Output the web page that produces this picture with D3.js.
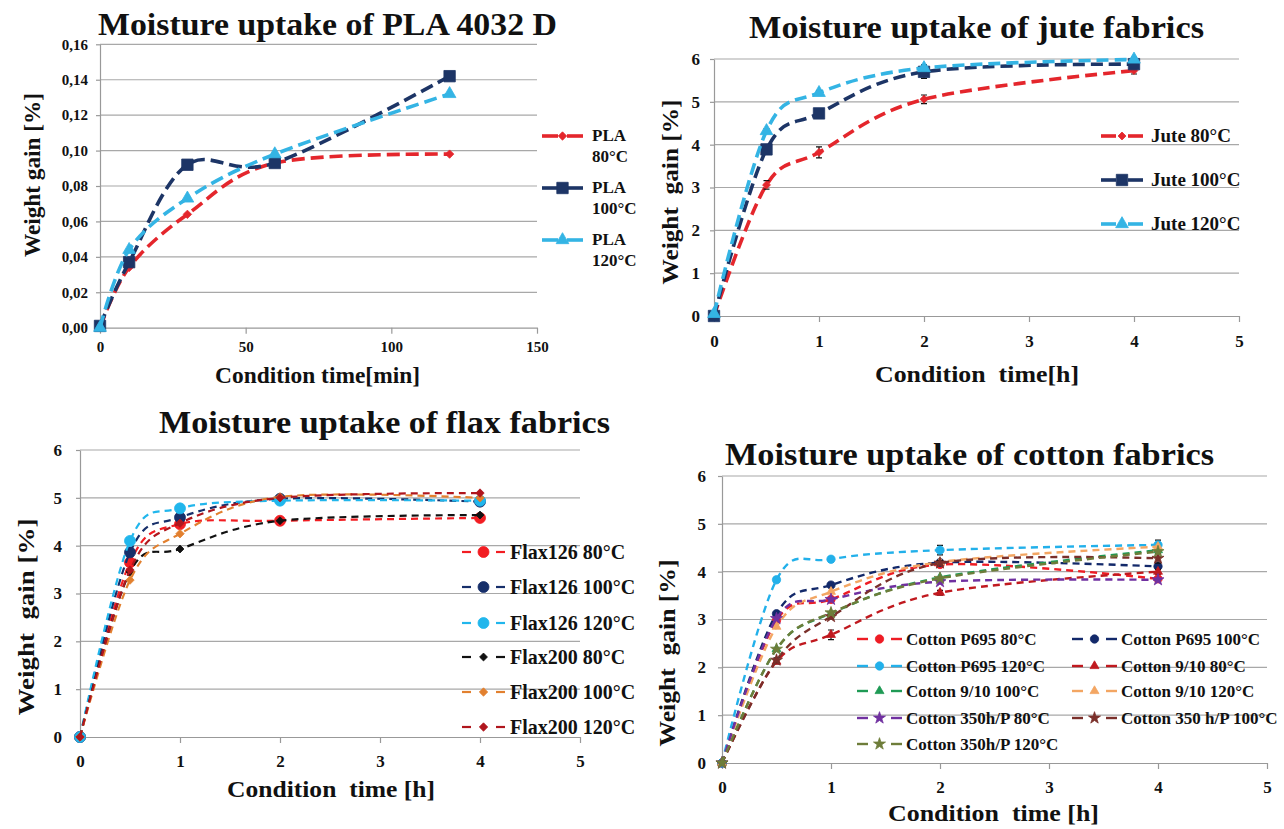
<!doctype html>
<html lang="en">
<head>
<meta charset="utf-8">
<title>Moisture uptake</title>
<script src="https://cdnjs.cloudflare.com/ajax/libs/d3/7.8.5/d3.min.js"></script>
<style>
  body { margin: 0; background: #fff; }
  text { font-family: "Liberation Serif", "Times New Roman", serif; font-weight: bold; fill: #111; }
</style>
</head>
<body>
<svg id="chart" width="1284" height="829"></svg>
<script>
// ---- data ----
var plaTime = [0, 10, 30, 60, 120];
var pla80  = [0, 0.034, 0.064, 0.093, 0.098];
var pla100 = [0.001, 0.037, 0.092, 0.093, 0.142];
var pla120 = [0, 0.044, 0.073, 0.098, 0.132];
var plaXTicks = [0, 50, 100, 150];
var plaYTicks = [0, 0.02, 0.04, 0.06, 0.08, 0.10, 0.12, 0.14, 0.16];

var hours = [0, 0.5, 1, 2, 4];
var hourTicks = [0, 1, 2, 3, 4, 5];
var pctTicks = [0, 1, 2, 3, 4, 5, 6];

var jute80  = [0, 3.06, 3.82, 5.06, 5.73];
var jute100 = [0, 3.89, 4.73, 5.70, 5.88];
var jute120 = [0.05, 4.32, 5.21, 5.79, 5.99];
var jute80Err  = [0, 0.10, 0.13, 0.10, 0.08];
var jute100Err = [0, 0.05, 0.08, 0.15, 0.08];
var jute120Err = [0, 0.05, 0.05, 0.08, 0.05];

var flax126_80  = [0, 3.65, 4.45, 4.52, 4.58];
var flax126_100 = [0, 3.86, 4.59, 4.98, 4.92];
var flax126_120 = [0, 4.10, 4.78, 4.94, 4.94];
var flax200_80  = [0, 3.45, 3.93, 4.52, 4.64];
var flax200_100 = [0, 3.28, 4.25, 5.02, 5.00];
var flax200_120 = [0, 3.49, 4.47, 5.00, 5.10];

var cotP695_80   = [0, 2.98, 3.42, 4.15, 3.85];
var cotP695_100  = [0, 3.12, 3.72, 4.19, 4.11];
var cotP695_120  = [0, 3.83, 4.26, 4.45, 4.56];
var cot910_80    = [0, 2.12, 2.68, 3.56, 4.00];
var cot910_100   = [0, 2.38, 3.13, 3.88, 4.45];
var cot910_120   = [0, 2.85, 3.58, 4.20, 4.52];
var cot350_80    = [0, 3.02, 3.42, 3.79, 3.83];
var cot350_100   = [0, 2.15, 3.06, 4.18, 4.28];
var cot350_120   = [0, 2.38, 3.14, 3.86, 4.42];
var cotP695_120Err = [0, 0.05, 0.05, 0.10, 0.10];
var cot910_80Err   = [0, 0.05, 0.10, 0.05, 0.05];
var cot350_100Err  = [0, 0.05, 0.05, 0.05, 0.10];

var svg = d3.select("#chart");
var comma2 = function(d) { return d3.format(".2f")(d).replace(".", ","); };
var diamond = d3.symbolDiamond2 || d3.symbolDiamond;

function drawPanel(p) {
  var x = d3.scaleLinear().domain(p.xDomain).range([p.left, p.right]);
  var y = d3.scaleLinear().domain(p.yDomain).range([p.bottom, p.top]);
  var g = svg.append("g");

  // horizontal gridlines
  g.selectAll("line.grid").data(p.yTicks.slice(1)).enter().append("line")
    .attr("class", "grid")
    .attr("x1", p.left).attr("x2", p.right)
    .attr("y1", function(d) { return y(d); }).attr("y2", function(d) { return y(d); })
    .attr("stroke", "#a8a8a8").attr("stroke-width", 1.2);

  var yAx = g.append("g").attr("transform", "translate(" + p.left + ",0)")
    .call(d3.axisLeft(y).tickValues(p.yTicks).tickFormat(p.yFormat).tickSize(4).tickSizeOuter(0).tickPadding(p.yPad));
  yAx.attr("font-size", p.tickFont);
  yAx.selectAll("path, line").attr("stroke", "#999").attr("stroke-width", 1.2);

  var xAx = g.append("g").attr("transform", "translate(0," + p.bottom + ")")
    .call(d3.axisBottom(x).tickValues(p.xTicks).tickFormat(d3.format("d")).tickSize(6).tickSizeOuter(0).tickPadding(p.xPad));
  xAx.attr("font-size", p.tickFont);
  xAx.selectAll("path, line").attr("stroke", "#999").attr("stroke-width", 1.2);

  // titles
  g.append("text").attr("x", p.title[1]).attr("y", p.title[3])
    .attr("font-size", 31).attr("textLength", p.title[2] - p.title[1])
    .attr("lengthAdjust", "spacingAndGlyphs").text(p.title[0]);
  g.append("text").attr("x", p.xTitle[1]).attr("y", p.xTitle[3])
    .attr("font-size", 23).attr("textLength", p.xTitle[2] - p.xTitle[1])
    .attr("lengthAdjust", "spacingAndGlyphs").attr("xml:space", "preserve").text(p.xTitle[0]);
  g.append("text")
    .attr("transform", "translate(" + p.yTitle[1] + "," + p.yTitle[2] + ") rotate(-90)")
    .attr("text-anchor", "middle").attr("font-size", 24)
    .attr("textLength", p.yTitle[3]).attr("lengthAdjust", "spacingAndGlyphs")
    .attr("xml:space", "preserve").text(p.yTitle[0]);

  var line = d3.line()
    .x(function(d) { return x(d.t); }).y(function(d) { return y(d.v); })
    .curve(d3.curveCardinal.tension(0));

  p.series.forEach(function(s) {
    var pts = s.values.map(function(v, i) { return { t: p.xs[i], v: v, e: s.err ? s.err[i] : 0 }; });
    g.append("path").datum(pts).attr("d", line).attr("fill", "none")
      .attr("stroke", s.color).attr("stroke-width", p.lineW).attr("stroke-dasharray", p.dash);
    // error bars
    g.selectAll(null).data(pts.filter(function(d) { return d.e > 0; })).enter().append("path")
      .attr("d", function(d) {
        var cx = x(d.t), y0 = y(d.v - d.e), y1 = y(d.v + d.e);
        return "M" + cx + "," + y0 + "V" + y1 + "M" + (cx - 3) + "," + y0 + "H" + (cx + 3) +
               "M" + (cx - 3) + "," + y1 + "H" + (cx + 3);
      })
      .attr("stroke", "#111").attr("stroke-width", 1.2).attr("fill", "none");
    g.selectAll(null).data(pts).enter().append("path")
      .attr("transform", function(d) { return "translate(" + x(d.t) + "," + y(d.v) + ")"; })
      .attr("d", d3.symbol().type(s.symbol).size(s.size))
      .attr("fill", s.color).attr("stroke", s.color).attr("stroke-width", 0.8);
  });

  // legend
  p.series.forEach(function(s, i) {
    var L = p.legend, ly, x0, col = 0;
    if (L.cols === 2) { col = i % 2; ly = L.ys[Math.floor(i / 2)]; x0 = L.x0[col]; }
    else { ly = L.ys[i]; x0 = L.x0[0]; }
    var cx = x0 + L.w / 2;
    g.append("line").attr("x1", x0).attr("x2", x0 + L.seg).attr("y1", ly).attr("y2", ly)
      .attr("stroke", s.color).attr("stroke-width", p.lineW);
    g.append("line").attr("x1", x0 + L.w - L.seg).attr("x2", x0 + L.w).attr("y1", ly).attr("y2", ly)
      .attr("stroke", s.color).attr("stroke-width", p.lineW);
    g.append("path").attr("transform", "translate(" + cx + "," + ly + ")")
      .attr("d", d3.symbol().type(s.symbol).size(s.size))
      .attr("fill", s.color).attr("stroke", s.color).attr("stroke-width", 0.8);
    var lines = s.label.split("\n");
    lines.forEach(function(t, k) {
      g.append("text").attr("x", x0 + L.w + L.gap).attr("y", ly + L.dy + k * L.lh)
        .attr("font-size", L.font).text(t);
    });
  });
}

var red = "#e4262c", navy = "#1d3566", cyan = "#34b4e4";

drawPanel({
  left: 100, right: 537, top: 44.3, bottom: 327.7,
  xDomain: [0, 150], yDomain: [0, 0.16], xs: plaTime,
  xTicks: plaXTicks, yTicks: plaYTicks, yFormat: comma2,
  tickFont: 15, yPad: 8, xPad: 8,
  title: ["Moisture uptake of PLA 4032 D", 98, 557, 35],
  xTitle: ["Condition time[min]", 215, 420, 383],
  yTitle: ["Weight gain [%]", 40, 175, 164],
  lineW: 3.6, dash: "13,6",
  series: [
    { label: "PLA\n80°C", values: pla80, color: red, symbol: diamond, size: 45 },
    { label: "PLA\n100°C", values: pla100, color: navy, symbol: d3.symbolSquare, size: 130 },
    { label: "PLA\n120°C", values: pla120, color: cyan, symbol: d3.symbolTriangle, size: 70 }
  ],
  legend: { ys: [136, 188, 240], x0: [542], w: 41, seg: 16, gap: 9, dy: 5, lh: 21, font: 17 }
});

drawPanel({
  left: 714, right: 1239, top: 59, bottom: 316,
  xDomain: [0, 5], yDomain: [0, 6], xs: hours,
  xTicks: hourTicks, yTicks: pctTicks, yFormat: d3.format("d"),
  tickFont: 17, yPad: 10, xPad: 13,
  title: ["Moisture uptake of jute fabrics", 749, 1204, 38],
  xTitle: ["Condition  time[h]", 875, 1079, 382],
  yTitle: ["Weight  gain [%]", 678, 192, 185],
  lineW: 3.6, dash: "12,6",
  series: [
    { label: "Jute 80°C", values: jute80, err: jute80Err, color: red, symbol: diamond, size: 40 },
    { label: "Jute 100°C", values: jute100, err: jute100Err, color: navy, symbol: d3.symbolSquare, size: 130 },
    { label: "Jute 120°C", values: jute120, err: jute120Err, color: cyan, symbol: d3.symbolTriangle, size: 70 }
  ],
  legend: { ys: [136, 180, 224], x0: [1101], w: 42, seg: 15, gap: 8, dy: 6, lh: 0, font: 19 }
});

drawPanel({
  left: 80, right: 580, top: 450, bottom: 737,
  xDomain: [0, 5], yDomain: [0, 6], xs: hours,
  xTicks: hourTicks, yTicks: pctTicks, yFormat: d3.format("d"),
  tickFont: 17, yPad: 14, xPad: 12,
  title: ["Moisture uptake of flax fabrics", 159, 610, 433],
  xTitle: ["Condition  time [h]", 227, 435, 797],
  yTitle: ["Weight  gain [%]", 34, 617, 197],
  lineW: 2.2, dash: "7,5",
  series: [
    { label: "Flax126 80°C", values: flax126_80, color: "#f21d22", symbol: d3.symbolCircle, size: 95 },
    { label: "Flax126 100°C", values: flax126_100, color: "#172f6a", symbol: d3.symbolCircle, size: 95 },
    { label: "Flax126 120°C", values: flax126_120, color: "#21b6ec", symbol: d3.symbolCircle, size: 95 },
    { label: "Flax200 80°C", values: flax200_80, color: "#111111", symbol: diamond, size: 40 },
    { label: "Flax200 100°C", values: flax200_100, color: "#e2802f", symbol: diamond, size: 45 },
    { label: "Flax200 120°C", values: flax200_120, color: "#b0161d", symbol: diamond, size: 45 }
  ],
  legend: { ys: [552, 587, 623, 657, 692, 727], x0: [462], w: 43, seg: 9, gap: 5, dy: 7, lh: 0, font: 20 }
});

drawPanel({
  left: 722, right: 1267, top: 476, bottom: 763,
  xDomain: [0, 5], yDomain: [0, 6], xs: hours,
  xTicks: hourTicks, yTicks: pctTicks, yFormat: d3.format("d"),
  tickFont: 17, yPad: 12, xPad: 12,
  title: ["Moisture uptake of cotton fabrics", 725, 1214, 465],
  xTitle: ["Condition  time [h]", 888, 1099, 821],
  yTitle: ["Weight  gain [%]", 675, 653, 187],
  lineW: 2.4, dash: "7,5",
  series: [
    { label: "Cotton P695 80°C", values: cotP695_80, color: "#ee1c24", symbol: d3.symbolCircle, size: 55 },
    { label: "Cotton P695 100°C", values: cotP695_100, color: "#13296a", symbol: d3.symbolCircle, size: 55 },
    { label: "Cotton P695 120°C", values: cotP695_120, err: cotP695_120Err, color: "#22b0ea", symbol: d3.symbolCircle, size: 55 },
    { label: "Cotton 9/10 80°C", values: cot910_80, err: cot910_80Err, color: "#c0191f", symbol: d3.symbolTriangle, size: 35 },
    { label: "Cotton 9/10 100°C", values: cot910_100, color: "#1f9a55", symbol: d3.symbolTriangle, size: 35 },
    { label: "Cotton 9/10 120°C", values: cot910_120, color: "#f3a663", symbol: d3.symbolTriangle, size: 35 },
    { label: "Cotton 350h/P 80°C", values: cot350_80, color: "#7030a0", symbol: d3.symbolStar, size: 45 },
    { label: "Cotton 350 h/P 100°C", values: cot350_100, err: cot350_100Err, color: "#7a2f2a", symbol: d3.symbolStar, size: 45 },
    { label: "Cotton 350h/P 120°C", values: cot350_120, color: "#6e7d3a", symbol: d3.symbolStar, size: 45 }
  ],
  legend: { cols: 2, ys: [639, 666, 691, 718, 744], x0: [857, 1072], w: 45, seg: 11, gap: 4, dy: 6, lh: 0, font: 17 }
});
</script>
</body>
</html>
